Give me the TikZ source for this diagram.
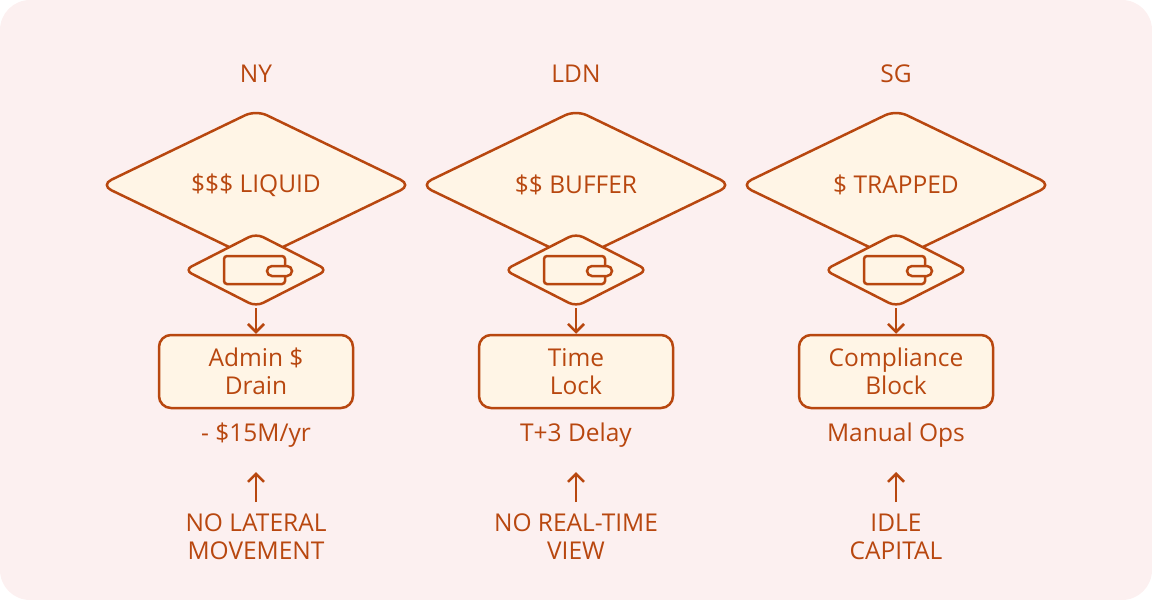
\documentclass[tikz,border=0pt]{standalone}
\usepackage{fontspec}
\setmainfont{Open Sans}
\usetikzlibrary{shapes.geometric,arrows.meta}
\definecolor{ink}{HTML}{B8470F}
\definecolor{fillc}{HTML}{FFF5E6}
\definecolor{bg}{HTML}{FCF0F0}
\tikzset{x=1pt,y=-1pt,
 txt/.style={text=ink,font=\fontsize{24.5}{28}\selectfont,align=center},
 big/.style={diamond,draw=ink,fill=fillc,line width=2.5pt,minimum width=312pt,minimum height=151pt,aspect=2.07,inner sep=0pt,rounded corners=12pt,txt},
 small/.style={diamond,draw=ink,fill=fillc,line width=2.5pt,minimum width=144pt,minimum height=74pt,aspect=1.94,inner sep=0pt,rounded corners=8pt},
 box/.style={draw=ink,fill=fillc,line width=2.5pt,rounded corners=12pt,minimum width=194pt,minimum height=73pt,txt,inner sep=0pt},
 arr/.style={draw=ink,line width=2.5pt,-{Straight Barb[length=8pt,width=16pt,line width=2.5pt]}}}
\begin{document}
\begin{tikzpicture}
\fill[bg,rounded corners=30pt] (0,0) rectangle (1152,600);
\useasboundingbox (0,0) rectangle (1152,600);
\foreach \i/\cx/\ti/\dt/\bt/\nt/\lt in {1/256/NY/{\$\$\$ LIQUID}/{Admin \$\\Drain}/{- \$15M/yr}/{NO LATERAL\\MOVEMENT},
 2/576/LDN/{\$\$ BUFFER}/{Time\\Lock}/{T+3 Delay}/{NO REAL-TIME\\VIEW},
 3/896/SG/{\$ TRAPPED}/{Compliance\\Block}/{Manual Ops}/{IDLE\\CAPITAL}}{
 \node[txt] (t\i) at (\cx,74) {\ti};
 \node[big] (d\i) at (\cx,185) {\dt};
 \node[small] (s\i) at (\cx,270) {};
 \draw[ink,line width=2.5pt,rounded corners=3pt] (\cx-32,256) rectangle (\cx+29,284);
 \draw[ink,fill=fillc,line width=2.5pt,rounded corners=5pt] (\cx+11,266) rectangle (\cx+36,276);
 \node[box] (b\i) at (\cx,371.5) {\bt};
 \node[txt] (n\i) at (\cx,435) {\nt};
 \coordinate (a\i) at (\cx,502);
 \node[txt] (l\i) at (\cx,537) {\lt};
 \draw[arr] (s\i.south) -- (b\i.north);
 \draw[arr] (a\i) -- (\cx,472);
}
\end{tikzpicture}
\end{document}
